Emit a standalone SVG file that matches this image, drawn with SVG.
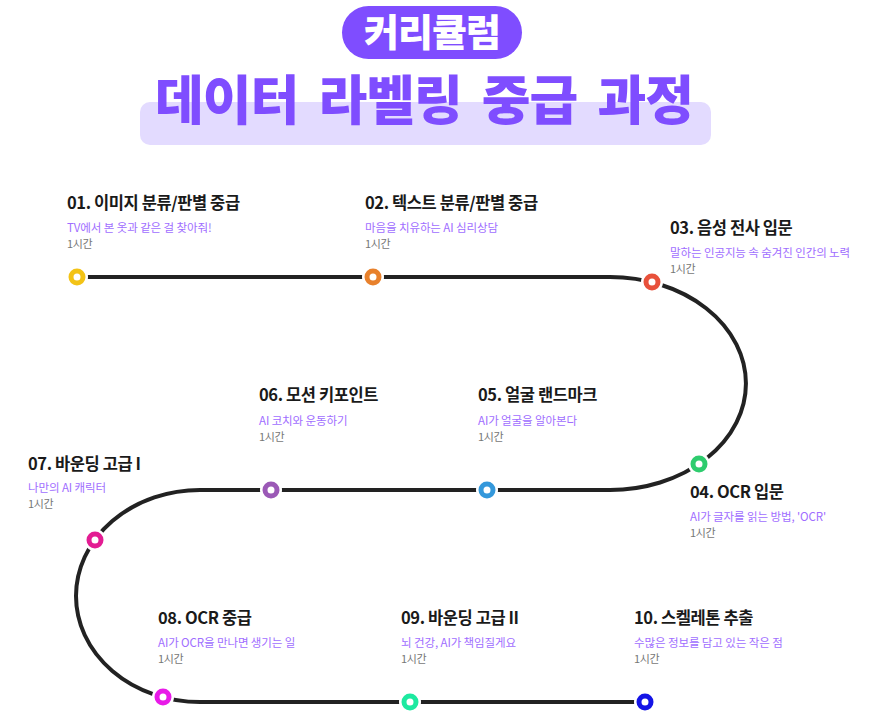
<svg xmlns="http://www.w3.org/2000/svg" width="871" height="718" viewBox="0 0 871 718">
<style>
.t{font-family:"Noto Sans CJK KR","Noto Sans",sans-serif;font-size:16.5px;font-weight:700;fill:#1a1a1a;letter-spacing:-0.4px}
.s{font-family:"Noto Sans CJK KR","Noto Sans",sans-serif;font-size:11.5px;font-weight:400;fill:#9F6EFF;letter-spacing:-0.1px}
.h{font-family:"Noto Sans CJK KR","Noto Sans",sans-serif;font-size:11px;font-weight:400;fill:#777;letter-spacing:-0.3px}
.halo{fill:#fff}
.ring{fill:#fff;stroke-width:5}
.line{fill:none;stroke:#222;stroke-width:4}
</style>
<rect width="871" height="718" fill="#fff"/>
<g id="header">
<rect x="342" y="6" width="180" height="53" rx="26.5" fill="#7F4DFF"/>
<text x="432" y="46" text-anchor="middle" font-family="'Noto Sans CJK KR',sans-serif" font-size="38" font-weight="900" fill="#fff" letter-spacing="-1">커리큘럼</text>
<rect x="140" y="102" width="571" height="43" rx="10" fill="#E3DBFF"/>
<text x="424" y="120" text-anchor="middle" font-family="'Noto Sans CJK KR',sans-serif" font-size="53" font-weight="900" fill="#7F4DFF" letter-spacing="-1" word-spacing="9">데이터 라벨링 중급 과정</text>
</g>
<g id="connectors">
<path class="line" d="M77,277 H610 A136,106.5 0 0 1 610,490 H200 A124,106 0 0 0 200,702 H645"/>
</g>
<g id="n01">
<circle class="halo" cx="77" cy="277" r="11"/><circle class="ring" cx="77" cy="277" r="6" stroke="#F3C316"/>
<text class="t" x="67" y="209">01. 이미지 분류/판별 중급</text>
<text class="s" x="67" y="232">TV에서 본 옷과 같은 걸 찾아줘!</text>
<text class="h" x="67" y="248">1시간</text>
</g>
<g id="n02">
<circle class="halo" cx="373" cy="277" r="11"/><circle class="ring" cx="373" cy="277" r="6" stroke="#E8812C"/>
<text class="t" x="365" y="209">02. 텍스트 분류/판별 중급</text>
<text class="s" x="365" y="232">마음을 치유하는 AI 심리상담</text>
<text class="h" x="365" y="248">1시간</text>
</g>
<g id="n03">
<circle class="halo" cx="652" cy="282" r="11"/><circle class="ring" cx="652" cy="282" r="6" stroke="#E8513B"/>
<text class="t" x="670" y="234">03. 음성 전사 입문</text>
<text class="s" x="670" y="257">말하는 인공지능 속 숨겨진 인간의 노력</text>
<text class="h" x="670" y="273">1시간</text>
</g>
<g id="n04">
<circle class="halo" cx="699" cy="464" r="11"/><circle class="ring" cx="699" cy="464" r="6" stroke="#2ECC6E"/>
<text class="t" x="690" y="498">04. OCR 입문</text>
<text class="s" x="690" y="521">AI가 글자를 읽는 방법, 'OCR'</text>
<text class="h" x="690" y="537">1시간</text>
</g>
<g id="n05">
<circle class="halo" cx="487" cy="490" r="11"/><circle class="ring" cx="487" cy="490" r="6" stroke="#3498DB"/>
<text class="t" x="478" y="401">05. 얼굴 랜드마크</text>
<text class="s" x="478" y="425">AI가 얼굴을 알아본다</text>
<text class="h" x="478" y="441">1시간</text>
</g>
<g id="n06">
<circle class="halo" cx="271" cy="490" r="11"/><circle class="ring" cx="271" cy="490" r="6" stroke="#9B59B6"/>
<text class="t" x="259" y="401">06. 모션 키포인트</text>
<text class="s" x="259" y="425">AI 코치와 운동하기</text>
<text class="h" x="259" y="441">1시간</text>
</g>
<g id="n07">
<circle class="halo" cx="95" cy="540" r="11"/><circle class="ring" cx="95" cy="540" r="6" stroke="#E31C93"/>
<text class="t" x="28" y="470">07. 바운딩 고급 I</text>
<text class="s" x="28" y="492">나만의 AI 캐릭터</text>
<text class="h" x="28" y="508">1시간</text>
</g>
<g id="n08">
<circle class="halo" cx="163" cy="697" r="11"/><circle class="ring" cx="163" cy="697" r="6" stroke="#E81AE8"/>
<text class="t" x="158" y="624">08. OCR 중급</text>
<text class="s" x="158" y="647">AI가 OCR을 만나면 생기는 일</text>
<text class="h" x="158" y="663">1시간</text>
</g>
<g id="n09">
<circle class="halo" cx="410" cy="702" r="11"/><circle class="ring" cx="410" cy="702" r="6" stroke="#1DE9A0"/>
<text class="t" x="401" y="624">09. 바운딩 고급 II</text>
<text class="s" x="401" y="647">뇌 건강, AI가 책임질게요</text>
<text class="h" x="401" y="663">1시간</text>
</g>
<g id="n10">
<circle class="halo" cx="645" cy="702" r="11"/><circle class="ring" cx="645" cy="702" r="6" stroke="#1414E6"/>
<text class="t" x="634" y="624">10. 스켈레톤 추출</text>
<text class="s" x="634" y="647">수많은 정보를 담고 있는 작은 점</text>
<text class="h" x="634" y="663">1시간</text>
</g>
</svg>
